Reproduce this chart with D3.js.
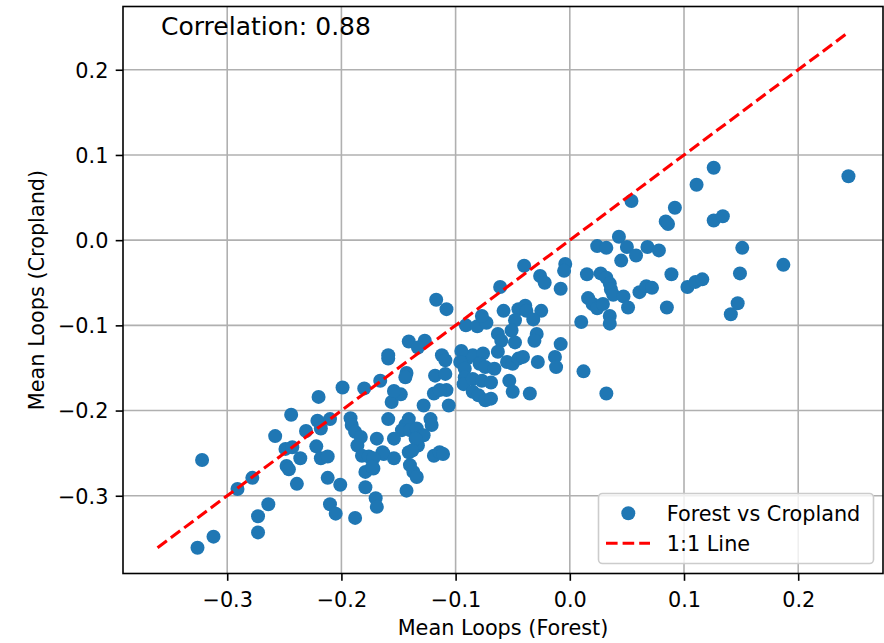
<!DOCTYPE html>
<html>
<head>
<meta charset="utf-8">
<script src="https://cdn.jsdelivr.net/npm/d3@7/dist/d3.min.js"></script>
<style>
  body { margin: 0; background: #fff; }
  svg text { font-family: "DejaVu Sans", sans-serif; fill: #000; }
</style>
</head>
<body>
<svg id="chart" width="884" height="643"></svg>
<script>
// Mean loop values per site: forest (x) against cropland (y)
const forestLoops = [
  -0.326, -0.312, -0.322, -0.291, -0.278, -0.273, -0.273, -0.264, -0.258, -0.249,
  -0.243, -0.244, -0.239, -0.248, -0.246, -0.236, -0.231, -0.220, -0.221, -0.218,
  -0.222, -0.210, -0.218, -0.212, -0.212, -0.201, -0.210, -0.205, -0.199, -0.188,
  -0.192, -0.191, -0.188, -0.183, -0.180, -0.179, -0.172, -0.169, -0.179, -0.170,
  -0.169, -0.163, -0.159, -0.154, -0.156, -0.148, -0.154, -0.133, -0.128, -0.119,
  -0.108, -0.106, -0.122, -0.121, -0.119, -0.114, -0.111, -0.143, -0.186, -0.182,
  -0.176, -0.164, -0.172, -0.173, -0.141, -0.140, -0.137, -0.134, -0.159, -0.143,
  -0.144, -0.118, -0.109, -0.166, -0.114, -0.141, -0.144, -0.147, -0.140, -0.134,
  -0.128, -0.135, -0.138, -0.154,
  -0.117, -0.108, -0.091, -0.081, -0.073, -0.141, -0.127, -0.133, -0.159, -0.112,
  -0.109, -0.090, -0.085, -0.077, -0.061, -0.040, -0.004, -0.005, -0.026, -0.022,
   0.015, -0.008, -0.058, -0.045, -0.039, -0.038, -0.025, -0.048, -0.032,  0.010,
  -0.063, -0.060, -0.051, -0.048, -0.029, -0.031, -0.008, -0.095, -0.096, -0.092,
  -0.076, -0.079, -0.074, -0.066, -0.063, -0.055, -0.050, -0.045, -0.041, -0.028,
  -0.013, -0.012,  0.012, -0.092, -0.093, -0.085, -0.077, -0.069, -0.053, -0.050,
  -0.085, -0.080, -0.074, -0.069, -0.035,
   0.126,  0.111,  0.054,  0.092,  0.084,  0.086,  0.126,  0.134,  0.043,  0.024,
   0.032,  0.050,  0.058,  0.068,  0.078,  0.045,  0.027,  0.032,  0.035,  0.036,
   0.038,  0.089,  0.016,  0.020,  0.024,  0.029,  0.047,  0.051,  0.061,  0.067,
   0.072,  0.085,  0.103,  0.110,  0.116,  0.035,  0.035,  0.032,  0.244,  0.151,
   0.187,  0.149,  0.147,  0.141
];
const croplandLoops = [
  -0.361, -0.348, -0.258, -0.292, -0.279, -0.324, -0.343, -0.310, -0.230, -0.245,
  -0.243, -0.205, -0.286, -0.265, -0.269, -0.256, -0.224, -0.184, -0.212, -0.221,
  -0.242, -0.210, -0.256, -0.254, -0.279, -0.287, -0.310, -0.321, -0.173, -0.326,
  -0.209, -0.217, -0.225, -0.231, -0.174, -0.272, -0.268, -0.233, -0.290, -0.303,
  -0.313, -0.251, -0.210, -0.256, -0.190, -0.181, -0.177, -0.241, -0.194, -0.180,
  -0.176, -0.194, -0.210, -0.217, -0.253, -0.249, -0.251, -0.294, -0.241, -0.253,
  -0.254, -0.249, -0.256, -0.266, -0.249, -0.264, -0.272, -0.278, -0.139, -0.156,
  -0.161, -0.159, -0.157, -0.165, -0.176, -0.210, -0.217, -0.223, -0.223, -0.221,
  -0.229, -0.233, -0.247, -0.233,
  -0.070, -0.081, -0.100, -0.101, -0.097, -0.119, -0.118, -0.126, -0.135, -0.135,
  -0.141, -0.139, -0.135, -0.089, -0.055, -0.030, -0.028, -0.036, -0.042, -0.050,
  -0.040, -0.057, -0.083, -0.081, -0.077, -0.083, -0.083, -0.094, -0.093, -0.096,
  -0.110, -0.118, -0.106, -0.120, -0.110, -0.118, -0.122, -0.130, -0.143, -0.151,
  -0.133, -0.145, -0.149, -0.151, -0.131, -0.143, -0.145, -0.139, -0.137, -0.143,
  -0.137, -0.149, -0.154, -0.161, -0.169, -0.163, -0.165, -0.167, -0.165, -0.178,
  -0.178, -0.182, -0.188, -0.186, -0.180,
   0.085,  0.065,  0.046,  0.038,  0.022,  0.019,  0.023,  0.028,  0.004, -0.007,
  -0.009, -0.008, -0.018, -0.008, -0.012, -0.024, -0.039, -0.044, -0.051, -0.058,
  -0.064, -0.040, -0.068, -0.075, -0.080, -0.075, -0.066, -0.079, -0.061, -0.054,
  -0.056, -0.079, -0.055, -0.049, -0.046, -0.089, -0.098, -0.180,  0.075, -0.009,
  -0.029, -0.039, -0.074, -0.087
];
const xTicks = [-0.3, -0.2, -0.1, 0.0, 0.1, 0.2];
const yTicks = [-0.3, -0.2, -0.1, 0.0, 0.1, 0.2];
const correlationText = "Correlation: 0.88";
const scatterLabel = "Forest vs Cropland";
const identityLabel = "1:1 Line";
const xTitle = "Mean Loops (Forest)";
const yTitle = "Mean Loops (Cropland)";

const points = forestLoops.map((f, i) => ({ forest: f, cropland: croplandLoops[i] }));

// Plot area
const plot = { left: 123, right: 883, top: 6.5, bottom: 573.5 };
const blue = "#1f77b4";
const gridColor = "#b0b0b0";

// The 1:1 line spans the joint extent; both axes get a 5% margin around it
const lo = Math.min(d3.min(forestLoops), d3.min(croplandLoops));
const hi = Math.max(d3.max(forestLoops), d3.max(croplandLoops));
const pad = (hi - lo) * 0.05;

const x = d3.scaleLinear().domain([lo - pad, hi + pad]).range([plot.left, plot.right]);
const y = d3.scaleLinear().domain([lo - pad, hi + pad]).range([plot.bottom, plot.top]);

const fmt = d => (d < 0 ? "\u2212" : "") + Math.abs(d).toFixed(1);

const svg = d3.select("#chart");

// Grid
const grid = svg.append("g");
grid.selectAll("line.gx").data(xTicks).join("line")
  .attr("x1", d => x(d)).attr("x2", d => x(d))
  .attr("y1", plot.top).attr("y2", plot.bottom)
  .attr("stroke", gridColor).attr("stroke-width", 1.6);
grid.selectAll("line.gy").data(yTicks).join("line")
  .attr("y1", d => y(d)).attr("y2", d => y(d))
  .attr("x1", plot.left).attr("x2", plot.right)
  .attr("stroke", gridColor).attr("stroke-width", 1.6);

// Scatter
svg.append("g").selectAll("circle").data(points).join("circle")
  .attr("cx", d => x(d.forest))
  .attr("cy", d => y(d.cropland))
  .attr("r", 7)
  .attr("fill", blue);

// 1:1 reference line
const identity = d3.line().x(d => x(d)).y(d => y(d));
svg.append("path")
  .datum([lo, hi])
  .attr("d", identity)
  .attr("fill", "none")
  .attr("stroke", "#ff0000")
  .attr("stroke-width", 3.1)
  .attr("stroke-dasharray", "11.6,5");

// Axes
const xAxis = d3.axisBottom(x).tickValues(xTicks).tickFormat(fmt).tickSize(7.3).tickPadding(7.3);
const yAxis = d3.axisLeft(y).tickValues(yTicks).tickFormat(fmt).tickSize(7.3).tickPadding(7.3);

const gx = svg.append("g").attr("transform", `translate(0,${plot.bottom})`).call(xAxis);
const gy = svg.append("g").attr("transform", `translate(${plot.left},0)`).call(yAxis);
[gx, gy].forEach(g => {
  g.select(".domain").remove();
  g.selectAll(".tick line").attr("stroke", "#000").attr("stroke-width", 1.6);
  g.selectAll(".tick text").attr("font-size", 20.8).attr("font-family", "DejaVu Sans").attr("fill", "#000");
});
gx.selectAll(".tick text").attr("dy", null).attr("y", 33.2);
gy.selectAll(".tick text").attr("dy", "0.35em");

// Frame
svg.append("rect")
  .attr("x", plot.left).attr("y", plot.top)
  .attr("width", plot.right - plot.left).attr("height", plot.bottom - plot.top)
  .attr("fill", "none").attr("stroke", "#000").attr("stroke-width", 1.6);

// Axis titles
svg.append("text")
  .attr("x", (plot.left + plot.right) / 2).attr("y", 635)
  .attr("text-anchor", "middle").attr("font-size", 20.8)
  .text(xTitle);
svg.append("text")
  .attr("transform", `translate(44,${(plot.top + plot.bottom) / 2}) rotate(-90)`)
  .attr("text-anchor", "middle").attr("font-size", 20.8)
  .text(yTitle);

// Correlation annotation
svg.append("text")
  .attr("x", plot.left + 0.05 * (plot.right - plot.left))
  .attr("y", plot.bottom - 0.95 * (plot.bottom - plot.top))
  .attr("font-size", 25)
  .text(correlationText);

// Legend
const legend = svg.append("g");
legend.append("rect")
  .attr("x", 598.5).attr("y", 493.5).attr("width", 275).attr("height", 70)
  .attr("rx", 4).attr("fill", "#fff").attr("fill-opacity", 0.8)
  .attr("stroke", "#cccccc").attr("stroke-width", 1.6);
legend.append("circle").attr("cx", 628.3).attr("cy", 513.3).attr("r", 7).attr("fill", blue);
legend.append("text").attr("x", 666.7).attr("y", 520.5).attr("font-size", 20.8).text(scatterLabel);
legend.append("path")
  .datum([[606, 543.3], [650, 543.3]])
  .attr("d", d3.line())
  .attr("stroke", "#ff0000").attr("stroke-width", 3.1)
  .attr("stroke-dasharray", "11.6,5");
legend.append("text").attr("x", 666.7).attr("y", 551).attr("font-size", 20.8).text(identityLabel);
</script>
</body>
</html>
